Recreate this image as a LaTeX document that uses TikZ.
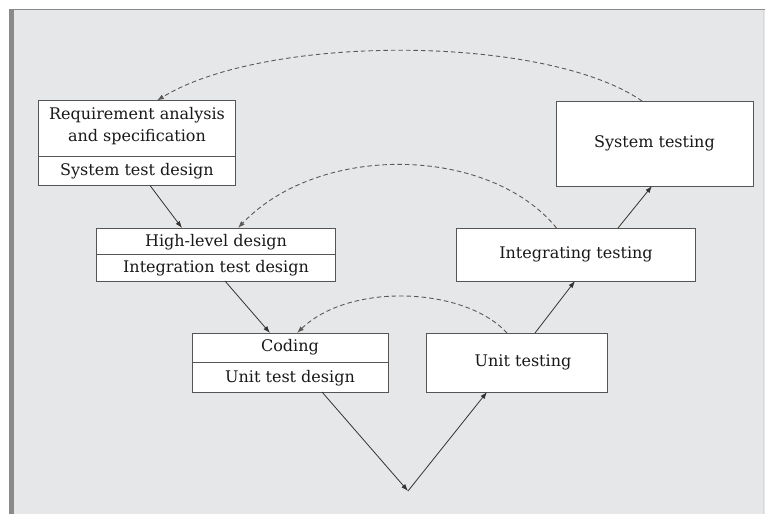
\documentclass[tikz,border=0pt]{standalone}
\usepackage{fontspec}
\setmainfont{DejaVu Serif}
\usetikzlibrary{arrows.meta}
\definecolor{panel}{HTML}{E6E7E9}
\definecolor{frame}{HTML}{8A8A8A}
\definecolor{boxline}{HTML}{555555}
\tikzset{
  box/.style={draw=boxline, line width=0.9pt, fill=white, inner sep=0pt, outer sep=0pt},
  lbl/.style={font=\fontsize{16}{22}\selectfont, inner sep=0pt, text=black!90},
  flow/.style={draw=black!80, line width=0.8pt, -{Latex[length=7pt,width=5pt]}},
  back/.style={draw=black!65, line width=0.9pt, dashed, dash pattern=on 4.5pt off 3pt, -{Latex[length=7pt,width=5pt]}},
}
\begin{document}
\begin{tikzpicture}[x=1pt,y=-1pt]
\useasboundingbox (0,0) rectangle (765,516);
\fill[white] (0,0) rectangle (765,516);
\fill[panel] (10,9) rectangle (765,514);
\draw[frame, line width=1.5pt] (10,9.5) -- (765,9.5);
\fill[frame] (9,9) rectangle (14,514);
\draw[white!85!black, line width=0.6pt] (763,10) -- (763,514);

% Requirement box
\node[box, minimum width=197pt, minimum height=85pt, anchor=north west] (req) at (38.5,100.5) {};
\draw[boxline, line width=0.9pt] (38.5,156) -- (235.5,156);
\node[lbl, align=center] (reqt) at (137,126.5) {Requirement analysis\\and specification};
\node[lbl] (reqb) at (137,171) {System test design};

% High-level design box
\node[box, minimum width=239pt, minimum height=53pt, anchor=north west] (hld) at (96.5,228) {};
\draw[boxline, line width=0.9pt] (96.5,254.5) -- (335.5,254.5);
\node[lbl] (hldt) at (216,242) {High-level design};
\node[lbl] (hldb) at (216,268) {Integration test design};

% Coding box
\node[box, minimum width=196pt, minimum height=59pt, anchor=north west] (cod) at (192,333) {};
\draw[boxline, line width=0.9pt] (192,362) -- (388,362);
\node[lbl] (codt) at (290,347) {Coding};
\node[lbl] (codb) at (290,378) {Unit test design};

% Unit testing box
\node[box, minimum width=181pt, minimum height=59pt, anchor=north west] (ut) at (426,333) {};
\node[lbl] (utt) at (523,362) {Unit testing};

% Integrating testing box
\node[box, minimum width=239pt, minimum height=53pt, anchor=north west] (it) at (456,228) {};
\node[lbl] (itt) at (576,254.5) {Integrating testing};

% System testing box
\node[box, minimum width=197pt, minimum height=85pt, anchor=north west] (st) at (556,101) {};
\node[lbl] (stt) at (654.5,143) {System testing};

\coordinate (v) at (408,491);

% flow arrows
\draw[flow] ([xshift=13pt]req.south) -- ([xshift=-34pt]hld.north);
\draw[flow] ([xshift=9pt]hld.south) -- ([xshift=-20pt]cod.north);
\draw[flow] ([xshift=32pt]cod.south) -- (v);
\draw[flow] (v) -- ([xshift=-29.5pt]ut.south);
\draw[flow] ([xshift=18.5pt]ut.north) -- ([xshift=-0.5pt]it.south);
\draw[flow] ([xshift=42.5pt]it.north) -- ([xshift=-2.5pt]st.south);

% dashed feedback arcs
\draw[back] ([xshift=-12.5pt]st.north) .. controls (545,34) and (265,34) .. ([xshift=20pt]req.north);
\draw[back] ([xshift=-19pt]it.north) .. controls (490,146) and (320,142) .. ([xshift=22pt]hld.north);
\draw[back] ([xshift=-9.5pt]ut.north) .. controls (465,287) and (350,282) .. ([xshift=7pt]cod.north);
\end{tikzpicture}
\end{document}
